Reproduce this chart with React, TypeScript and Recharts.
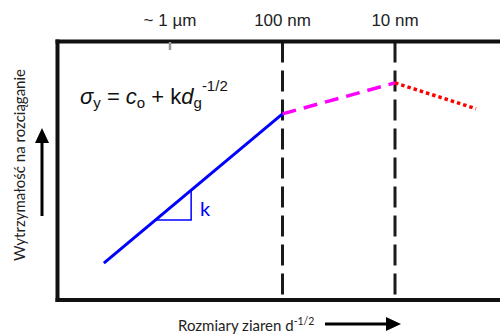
import React from "react";
import {
  ComposedChart,
  Line,
  XAxis,
  YAxis,
  ReferenceLine,
  ReferenceDot,
} from "recharts";

// x: d^-1/2 (arbitrary units), y: strength (arbitrary units)
const hallPetch = [
  { x: 10.3, y: 14.3 },
  { x: 50, y: 72 },
];
const nanoRange = [
  { x: 50, y: 72 },
  { x: 75, y: 84 },
];
const inverseRange = [
  { x: 75, y: 84 },
  { x: 93, y: 74 },
];
const slopeTriangle = [
  { x: 21.7, y: 30.9 },
  { x: 29.7, y: 30.9 },
  { x: 29.7, y: 42.4 },
];

const sizeTicks = [25, 50, 75];
const sizeLabels = ["~ 1  \u00b5m", "100 nm", "10 nm"];
const dividers = [50, 75];

const CAL = "Lato, 'Open Sans', sans-serif";
const ARIAL = "'Liberation Sans', Arial, sans-serif";

const border = {
  stroke: "#111",
  strokeWidth: 4,
  strokeLinecap: "square" as const,
};

const SizeTick = (props: any) => {
  const { x, y, payload } = props;
  const i = sizeTicks.indexOf(payload.value);
  return (
    <g>
      <text
        x={x}
        y={y}
        textAnchor="middle"
        fontFamily={ARIAL}
        fontSize={17}
        fill="#222"
      >
        {sizeLabels[i]}
      </text>
      {i === 0 && (
        <line x1={x} x2={x} y1={y + 16} y2={y + 24} stroke="#999" strokeWidth={2.5} />
      )}
    </g>
  );
};

const YLabel = () => (
  <g>
    <text
      x={0}
      y={0}
      transform="translate(25,165) rotate(-90)"
      textAnchor="middle"
      fontFamily={CAL}
      fontSize={15}
      fill="#222"
    >
      Wytrzymałość na rozciąganie
    </text>
    <line x1={42} y1={216} x2={42} y2={140} stroke="#000" strokeWidth={3} />
    <polygon points="35,143 49,143 42,128" fill="#000" />
  </g>
);

const XLabel = () => (
  <g>
    <text x={178} y={331} fontFamily={CAL} fontSize={15} fill="#222">
      Rozmiary ziaren d
      <tspan fontSize={10.5} dy={-6}>
        -1/2
      </tspan>
    </text>
    <line x1={325} y1={324} x2={388} y2={324} stroke="#000" strokeWidth={3} />
    <polygon points="386,317 386,331 401,324" fill="#000" />
  </g>
);

const Formula = ({ viewBox }: any) => {
  const { x, y } = viewBox;
  return (
    <text x={x} y={y} fontFamily={ARIAL} fontSize={22} fill="#111">
      <tspan fontStyle="italic">σ</tspan>
      <tspan fontSize={15} dy={4}>
        y
      </tspan>
      <tspan dy={-4}>{" =  "}</tspan>
      <tspan fontStyle="italic">c</tspan>
      <tspan fontSize={15} dy={4}>
        o
      </tspan>
      <tspan dy={-4}>{" + k"}</tspan>
      <tspan fontStyle="italic">d</tspan>
      <tspan fontSize={15} dy={4}>
        g
      </tspan>
      <tspan fontSize={15} dy={-17}>
        -1/2
      </tspan>
    </text>
  );
};

export default function App() {
  return (
    <div
      style={{
        position: "absolute",
        left: 0,
        top: 0,
        width: 500,
        height: 334,
        overflow: "hidden",
        background: "#fff",
      }}
    >
      <ComposedChart
        width={520}
        height={334}
        data={hallPetch}
        margin={{ top: 0, right: 12.5, bottom: 0, left: 0 }}
      >
        <XAxis
          xAxisId="top"
          orientation="top"
          type="number"
          dataKey="x"
          domain={[0, 100]}
          allowDataOverflow
          height={41.5}
          ticks={sizeTicks}
          tickLine={false}
          tickMargin={9.5}
          axisLine={border}
          tick={<SizeTick />}
          interval={0}
        />
        <XAxis
          type="number"
          dataKey="x"
          domain={[0, 100]}
          allowDataOverflow
          height={34}
          tick={false}
          tickLine={false}
          axisLine={border}
          label={<XLabel />}
        />
        <YAxis
          type="number"
          domain={[0, 100]}
          allowDataOverflow
          width={57.5}
          tick={false}
          tickLine={false}
          axisLine={border}
          label={<YLabel />}
        />
        {dividers.map((d) => (
          <ReferenceLine
            key={d}
            segment={[
              { x: d, y: 100 },
              { x: d, y: 0 },
            ]}
            stroke="#1a1a1a"
            strokeWidth={3}
            strokeDasharray="21 8"
          />
        ))}
        <Line
          dataKey="y"
          type="linear"
          stroke="#0000ff"
          strokeWidth={3}
          dot={false}
          activeDot={false}
          isAnimationActive={false}
        />
        <Line
          xAxisId="top"
          data={slopeTriangle}
          dataKey="y"
          type="linear"
          stroke="#0000ff"
          strokeWidth={1.5}
          dot={false}
          activeDot={false}
          isAnimationActive={false}
        />
        <Line
          data={nanoRange}
          dataKey="y"
          type="linear"
          stroke="#ff00ff"
          strokeWidth={3.5}
          strokeDasharray="14 8"
          dot={false}
          activeDot={false}
          isAnimationActive={false}
        />
        <Line
          data={inverseRange}
          dataKey="y"
          type="linear"
          stroke="#ff0000"
          strokeWidth={3.5}
          strokeDasharray="3.5 3"
          dot={false}
          activeDot={false}
          isAnimationActive={false}
        />
        <ReferenceDot
          x={32.8}
          y={35.2}
          r={0}
          label={{
            value: "k",
            position: "center",
            fill: "#0000ff",
            fontSize: 20,
            fontFamily: CAL,
          }}
        />
        <ReferenceDot x={5} y={75.8} r={0} label={<Formula />} />
      </ComposedChart>
    </div>
  );
}
